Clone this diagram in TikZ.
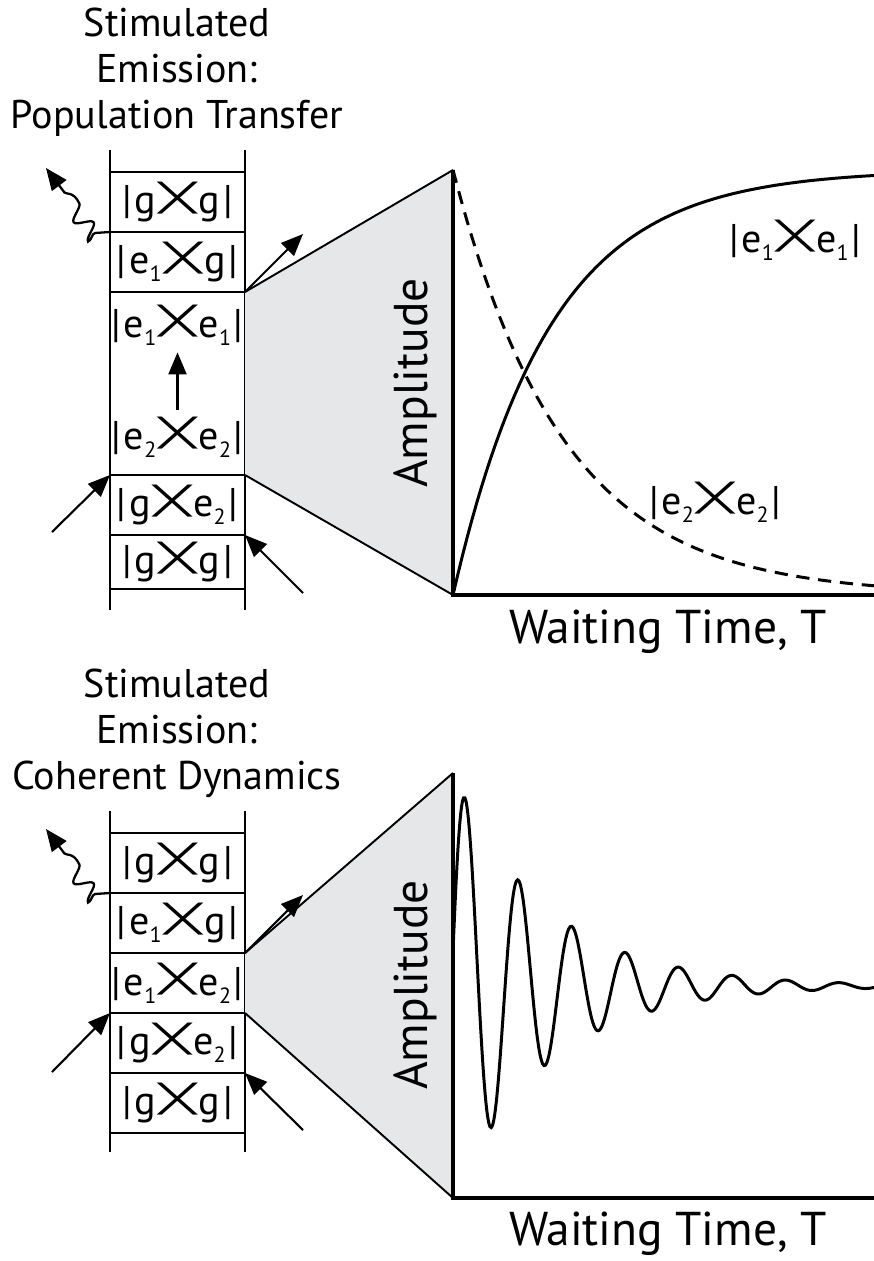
\documentclass[tikz,border=0pt]{standalone}
\usepackage{fontspec}
\setmainfont{PT Sans}
\newfontfamily\dejavu{DejaVu Sans}
\usetikzlibrary{positioning, arrows.meta, calc, decorations.pathmorphing}
\definecolor{ampgray}{HTML}{E6E7E9}

% ket-bra label: |a><b| with the crossed brackets
\newcommand\crossmark{\kern0.08em\raisebox{\depth}{\resizebox*{0.9em}{0.8em}{\dejavu ╳}}\kern0.08em}
\newcommand\lvl[1]{\raisebox{-0.2em}{\scalebox{0.55}{#1}}}
\newcommand\kb[2]{|\kern0.07em#1\crossmark#2\kern0.07em|}

\begin{document}
\begin{tikzpicture}[x=0.02cm, y=-0.02cm,
    every node/.style={inner sep=0pt},
    title/.style={align=center, font=\fontsize{22.8}{26.2}\selectfont},
    state/.style={font=\fontsize{22.8}{26}\selectfont},
    axislabel/.style={font=\fontsize{27}{30}\selectfont},
    frame/.style={line width=1.1pt},
    axis/.style={line width=1.8pt},
    curve/.style={line width=1.7pt},
    beam/.style={line width=1.2pt, -{Triangle[length=4.4mm, width=3.6mm]}},
    photon/.style={line width=1.3pt, decorate,
      decoration={snake, amplitude=1.6mm, segment length=4.8mm, pre length=3mm, post length=3.8mm},
      -{Triangle[length=4.4mm, width=3.6mm]}}]
  \useasboundingbox (0,0) rectangle (874,1261);

  % ---- population transfer ----
  \node[title, anchor=north] (t-title) at (177,8) {Stimulated\\Emission:\\Population Transfer};
  \draw[frame] (110,150) -- (110,610) (245,150) -- (245,610);
  \foreach \y in {172,232,292,475,535,589}
    \draw[frame] (110,\y) -- (245,\y);
  \node[state] (t-gg) at (177.5,202) {\kb{g}{g}};
  \node[state] (t-e1g) at (177.5,262) {\kb{e\lvl{1}}{g}};
  \node[state] (t-e1e1) at (177.5,325) {\kb{e\lvl{1}}{e\lvl{1}}};
  \node[state] (t-e2e2) at (177.5,437) {\kb{e\lvl{2}}{e\lvl{2}}};
  \node[state] (t-ge2) at (177.5,505) {\kb{g}{e\lvl{2}}};
  \node[state] (t-gg2) at (177.5,562) {\kb{g}{g}};
  \draw[beam, shorten <=4pt, shorten >=4pt] (t-e2e2.north) -- (t-e1e1.south);

  \coordinate (t-a) at (245,292);
  \coordinate (t-b) at (245,475);
  \coordinate (t-top) at (453,170);
  \coordinate (t-bot) at (453,595);
  \coordinate (t-end) at (874,595);
  \fill[ampgray] (t-a) -- (t-top) -- (t-bot) -- (t-b) -- cycle;
  \draw[frame] (t-a) -- (t-top) (t-b) -- (t-bot);
  \draw[axis] (t-top) -- (t-bot) -- (t-end);
  \node[axislabel, rotate=90] (t-amp) at (415,383) {Amplitude};
  \node[axislabel] (t-wait) at (668,632) {Waiting Time, T};

  \draw[curve] plot[domain=453:874, samples=90] (\x, {595-425*(1-exp(-(\x-453)/97))});
  \draw[curve, dash pattern=on 7.5pt off 5pt] plot[domain=453:874, samples=90] (\x, {170+425*(1-exp(-(\x-453)/110))});
  \node[state] (t-pop1) at (795,240) {\kb{e\lvl{1}}{e\lvl{1}}};
  \node[state] (t-pop2) at (715,502) {\kb{e\lvl{2}}{e\lvl{2}}};

  \coordinate (t-emit) at (110,232);
  \coordinate (t-kink) at (95,233);
  \coordinate (t-photon) at (46,168);
  \coordinate (t-sig) at (303,234);
  \coordinate (t-in1) at (52,532);
  \coordinate (t-in2) at (303,593);
  \coordinate (t-c5) at (245,535);
  \draw[photon] (t-emit) -- (t-kink) -- (t-photon);
  \draw[beam] (t-a) -- (t-sig);
  \draw[beam] (t-in1) -- (110,475);
  \draw[beam] (t-in2) -- (t-c5);

  % ---- coherent dynamics ----
  \node[title, anchor=north] (b-title) at (177,669) {Stimulated\\Emission:\\Coherent Dynamics};
  \draw[frame] (110,811) -- (110,1152) (245,811) -- (245,1152);
  \foreach \y in {833,893,953,1013,1073,1133}
    \draw[frame] (110,\y) -- (245,\y);
  \node[state] (b-gg) at (177.5,863) {\kb{g}{g}};
  \node[state] (b-e1g) at (177.5,923) {\kb{e\lvl{1}}{g}};
  \node[state] (b-e1e2) at (177.5,983) {\kb{e\lvl{1}}{e\lvl{2}}};
  \node[state] (b-ge2) at (177.5,1043) {\kb{g}{e\lvl{2}}};
  \node[state] (b-gg2) at (177.5,1103) {\kb{g}{g}};

  \coordinate (b-a) at (245,953);
  \coordinate (b-b) at (245,1013);
  \coordinate (b-top) at (453,773);
  \coordinate (b-bot) at (453,1198);
  \coordinate (b-end) at (874,1198);
  \fill[ampgray] (b-a) -- (b-top) -- (b-bot) -- (b-b) -- cycle;
  \draw[frame] (b-a) -- (b-top) (b-b) -- (b-bot);
  \draw[axis] (b-top) -- (b-bot) -- (b-end);
  \node[axislabel, rotate=90] (b-amp) at (415,985) {Amplitude};
  \node[axislabel] (b-wait) at (668,1234) {Waiting Time, T};

  \draw[curve] plot[domain=453:874, samples=320, smooth] (\x, {986-188*exp(-(\x-465)/93)*cos(6.729*(\x-465))});

  \coordinate (b-emit) at (110,893);
  \coordinate (b-kink) at (95,894);
  \coordinate (b-photon) at (46,829);
  \coordinate (b-sig) at (303,895);
  \coordinate (b-in1) at (52,1072);
  \coordinate (b-in2) at (303,1130);
  \coordinate (b-c4) at (245,1073);
  \draw[photon] (b-emit) -- (b-kink) -- (b-photon);
  \draw[beam] (b-a) -- (b-sig);
  \draw[beam] (b-in1) -- (110,1013);
  \draw[beam] (b-in2) -- (b-c4);
\end{tikzpicture}
\end{document}
